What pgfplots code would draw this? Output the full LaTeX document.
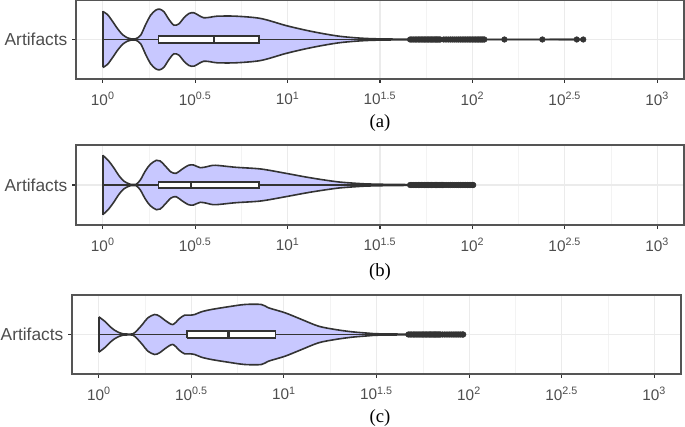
\documentclass[border=0pt]{standalone}
\usepackage{pgfplots}
\pgfplotsset{compat=1.18}
\usepackage{pgfplotstable}
\usepackage{fontspec}
\setmainfont{Liberation Sans}
\newfontfamily\capfont{Liberation Serif}
\definecolor{vfill}{RGB}{200,200,255}
\definecolor{vline}{HTML}{333333}
\definecolor{gmaj}{HTML}{EBEBEB}
\definecolor{gmin}{HTML}{F3F3F3}
\definecolor{tlab}{HTML}{4D4D4D}
\definecolor{frame}{HTML}{555555}

% violin half-widths (px) against value
\pgfplotstableread{
v w
1 28
1.0593 25
1.1272 18.3
1.1995 11
1.2764 5
1.3583 1.7
1.4158 0.7
1.5066 0.7
1.6032 4.3
1.7061 15
1.8155 24.3
1.9320 29.3
2.0324 30.3
2.1429 27.7
2.2803 20
2.4266 14.3
2.5823 15.7
2.7479 21.7
2.9242 26
3.1117 26.7
3.3113 24
3.5237 21.7
3.8282 22.3
4.1591 23.3
5.248 23.3
7.161 21
9.772 14
12.53 9.3
15.42 6
18.97 3.3
23.33 1.7
28.71 0.8
39.81 0.4
100 0.2
398.1 0
}\va
\pgfplotstableread{
v w
1 29.7
1.0765 24
1.1455 17.3
1.2190 9.7
1.2972 4
1.3804 1.3
1.4125 0.7
1.5136 0.7
1.5959 5
1.6982 14
1.8072 20.7
1.9498 24.7
2.0464 24
2.1777 19
2.3388 13
2.4946 11.7
2.6792 15.7
2.9107 19.7
3.0974 20
3.3651 17.3
3.6559 18.3
4.0551 19.7
5.248 17.7
7.161 16
9.772 11.7
12.53 8
15.42 5.3
18.97 3
23.33 1.7
27.54 1
39.81 0.5
101 0
}\vb
\pgfplotstableread{
v w
1 17.7
1.0740 13.3
1.1429 8.3
1.2162 4.3
1.2942 1.7
1.3490 0.7
1.5276 0.7
1.6255 5
1.7298 10.7
1.8408 16.7
1.9999 20
2.1281 18.3
2.3121 13.3
2.5119 10
2.7290 16
2.9040 19.3
3.0903 19.3
3.2961 20
3.5810 22.7
4.0551 25
4.9888 27.7
6.1376 30
7.5509 30
8.241 26.7
10.14 21.7
12.47 15
15.38 8.3
18.92 5
23.28 2.7
28.64 1.3
32.36 0.7
50.12 0.3
93 0
}\vc

\pgfplotsset{
 myline/.style={vline, line width=1.2pt},
 myout/.style={only marks, mark=*, mark size=2.1pt, vline, mark options={fill=vline, draw=vline}},
}

\begin{document}
\begin{tikzpicture}
\useasboundingbox (0,0) rectangle (513.75pt,320.25pt);

% ---------- (a)
\begin{axis}[xmode=log, scale only axis,
  xmin=0.7161, xmax=1396.4,
  xtick={1,3.1623,10,31.623,100,316.23,1000},
  xticklabels={10\textsuperscript{0},10\textsuperscript{0.5},10\textsuperscript{1},10\textsuperscript{1.5},10\textsuperscript{2},10\textsuperscript{2.5},10\textsuperscript{3}},
  minor xtick={1.7783,5.6234,17.783,56.234,177.83,562.34},
  ytick={0}, yticklabels={Artifacts},
  xmajorgrids, xminorgrids, ymajorgrids,
  major grid style={gmaj, line width=0.8pt},
  minor grid style={gmin, line width=0.4pt},
  axis line style={frame, line width=0.8pt},
  major tick style={vline, line width=0.8pt}, minor tick style={draw=none},
  major tick length=3pt,
  tick align=outside, xtick pos=bottom, ytick pos=left,
  xticklabel style={font=\fontsize{11.5}{13}\selectfont, text=tlab, yshift=-3pt},
  yticklabel style={font=\fontsize{13}{15}\selectfont, text=tlab},
  anchor=south west, at={(57pt,261pt)}, width=456pt, height=59.25pt, ymin=-39.5, ymax=39.5]
\addplot[fill=vfill, draw=none, smooth] table[x=v,y=w]{\va} \closedcycle;
\addplot[fill=vfill, draw=none, smooth] table[x=v,y expr=-\thisrow{w}]{\va} \closedcycle;
\addplot[myline, smooth] table[x=v,y=w]{\va};
\addplot[myline, smooth] table[x=v,y expr=-\thisrow{w}]{\va};
\addplot[myline] coordinates {(1,-28)(1,28)};
\addplot[myline] coordinates {(1,0)(2,0)};
\addplot[myline] coordinates {(7,0)(45,0)};
\addplot[myline, fill=white] coordinates {(2,-3.3)(7,-3.3)(7,3.3)(2,3.3)(2,-3.3)};
\addplot[vline, line width=2pt] coordinates {(4,-3.3)(4,3.3)};
\addplot[myout] coordinates {(46,0)(47,0)(48,0)(49,0)(50,0)(51,0)(52,0)(53,0)(54,0)(55,0)(56,0)(57,0)(58,0)(59,0)(60,0)(61,0)(62,0)(63,0)(64,0)(65,0)(66,0)(67,0)
(70,0)(72,0)(74,0)(76,0)(78,0)(80,0)(82,0)(84,0)(86,0)(88,0)(90,0)(92,0)(94,0)(96,0)(98,0)(100,0)(102,0)(104,0)(106,0)(108,0)(110,0)(112,0)(114,0)(116,0)
(149,0)(239,0)(367,0)(398,0)};
\end{axis}

% ---------- (b)
\begin{axis}[xmode=log, scale only axis,
  xmin=0.7161, xmax=1396.4,
  xtick={1,3.1623,10,31.623,100,316.23,1000},
  xticklabels={10\textsuperscript{0},10\textsuperscript{0.5},10\textsuperscript{1},10\textsuperscript{1.5},10\textsuperscript{2},10\textsuperscript{2.5},10\textsuperscript{3}},
  minor xtick={1.7783,5.6234,17.783,56.234,177.83,562.34},
  ytick={0}, yticklabels={Artifacts},
  xmajorgrids, xminorgrids, ymajorgrids,
  major grid style={gmaj, line width=0.8pt},
  minor grid style={gmin, line width=0.4pt},
  axis line style={frame, line width=0.8pt},
  major tick style={vline, line width=0.8pt}, minor tick style={draw=none},
  major tick length=3pt,
  tick align=outside, xtick pos=bottom, ytick pos=left,
  xticklabel style={font=\fontsize{11.5}{13}\selectfont, text=tlab, yshift=-3pt},
  yticklabel style={font=\fontsize{13}{15}\selectfont, text=tlab},
  anchor=south west, at={(57pt,151.5pt)}, width=456pt, height=60pt, ymin=-40, ymax=40]
\addplot[fill=vfill, draw=none, smooth] table[x=v,y=w]{\vb} \closedcycle;
\addplot[fill=vfill, draw=none, smooth] table[x=v,y expr=-\thisrow{w}]{\vb} \closedcycle;
\addplot[myline, smooth] table[x=v,y=w]{\vb};
\addplot[myline, smooth] table[x=v,y expr=-\thisrow{w}]{\vb};
\addplot[myline] coordinates {(1,-29.7)(1,29.7)};
\addplot[myline] coordinates {(1,0)(2,0)};
\addplot[myline] coordinates {(7,0)(45,0)};
\addplot[myline, fill=white] coordinates {(2,-3.2)(7,-3.2)(7,3.2)(2,3.2)(2,-3.2)};
\addplot[vline, line width=2pt] coordinates {(3,-3.2)(3,3.2)};
\addplot[myout] coordinates {(46,0)(47,0)(48,0)(49,0)(50,0)(51,0)(52,0)(53,0)(54,0)(55,0)(56,0)(57,0)(58,0)(59,0)(60,0)(61,0)(62,0)(63,0)(64,0)(65,0)(66,0)(67,0)(68,0)(69,0)(70,0)(72,0)(74,0)(76,0)(78,0)(80,0)(82,0)(84,0)(86,0)(88,0)(90,0)(92,0)(94,0)(96,0)(98,0)(100,0)(101,0)};
\end{axis}

% ---------- (c)
\begin{axis}[xmode=log, scale only axis,
  xmin=0.7161, xmax=1396.4,
  xtick={1,3.1623,10,31.623,100,316.23,1000},
  xticklabels={10\textsuperscript{0},10\textsuperscript{0.5},10\textsuperscript{1},10\textsuperscript{1.5},10\textsuperscript{2},10\textsuperscript{2.5},10\textsuperscript{3}},
  minor xtick={1.7783,5.6234,17.783,56.234,177.83,562.34},
  ytick={0}, yticklabels={Artifacts},
  xmajorgrids, xminorgrids, ymajorgrids,
  major grid style={gmaj, line width=0.8pt},
  minor grid style={gmin, line width=0.4pt},
  axis line style={frame, line width=0.8pt},
  major tick style={vline, line width=0.8pt}, minor tick style={draw=none},
  major tick length=3pt,
  tick align=outside, xtick pos=bottom, ytick pos=left,
  xticklabel style={font=\fontsize{11.5}{13}\selectfont, text=tlab, yshift=-3pt},
  yticklabel style={font=\fontsize{13}{15}\selectfont, text=tlab},
  anchor=south west, at={(54pt,39.75pt)}, width=456.75pt, height=59.25pt, ymin=-39.5, ymax=39.5]
\addplot[fill=vfill, draw=none, smooth] table[x=v,y=w]{\vc} \closedcycle;
\addplot[fill=vfill, draw=none, smooth] table[x=v,y expr=-\thisrow{w}]{\vc} \closedcycle;
\addplot[myline, smooth] table[x=v,y=w]{\vc};
\addplot[myline, smooth] table[x=v,y expr=-\thisrow{w}]{\vc};
\addplot[myline] coordinates {(1,-17.7)(1,17.7)};
\addplot[myline] coordinates {(1,0)(3,0)};
\addplot[myline] coordinates {(9,0)(46,0)};
\addplot[myline, fill=white] coordinates {(3,-3.3)(9,-3.3)(9,3.3)(3,3.3)(3,-3.3)};
\addplot[vline, line width=2pt] coordinates {(5,-3.3)(5,3.3)};
\addplot[myout] coordinates {(47,0)(48,0)(49,0)(50,0)(51,0)(52,0)(53,0)(54,0)(55,0)(56,0)(57,0)(58,0)(59,0)(60,0)(61,0)(62,0)(63,0)(64,0)(65,0)(66,0)(67,0)(68,0)(69,0)(70,0)(72,0)(74,0)(76,0)(78,0)(80,0)(82,0)(84,0)(86,0)(88,0)(90,0)(92,0)(93,0)};
\end{axis}

\node[font=\capfont\fontsize{14}{16}\selectfont] at (285pt,228pt) {(a)};
\node[font=\capfont\fontsize{14}{16}\selectfont] at (285pt,116.25pt) {(b)};
\node[font=\capfont\fontsize{14}{16}\selectfont] at (285pt,6.75pt) {(c)};
\end{tikzpicture}
\end{document}
